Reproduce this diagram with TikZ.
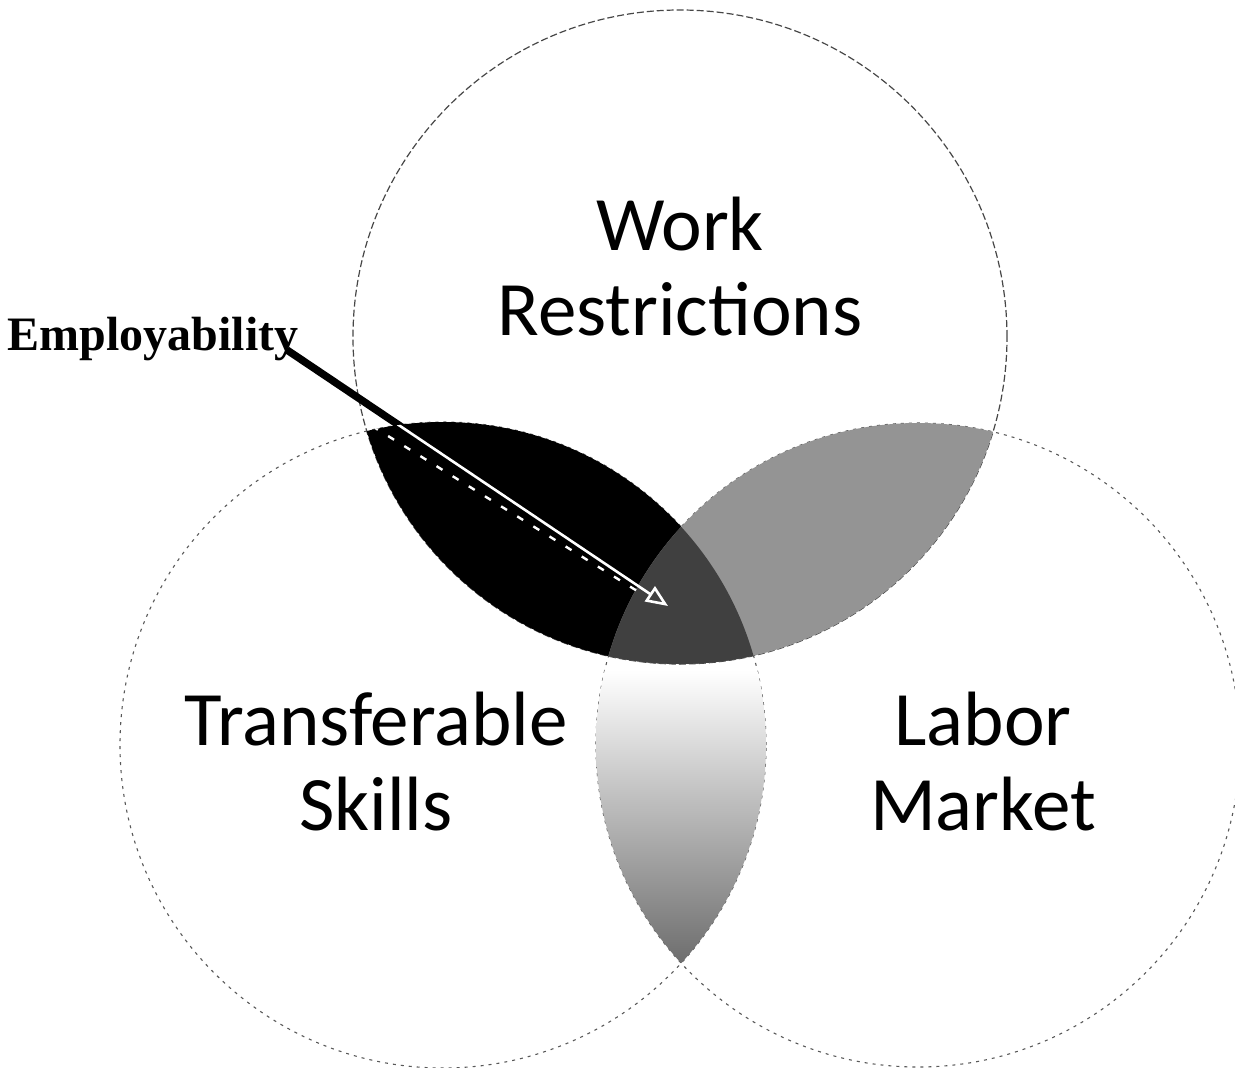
\documentclass[tikz,border=0pt]{standalone}
\usepackage{fontspec}
\setmainfont{Carlito}
\newfontfamily\empfont{Liberation Serif}
\usetikzlibrary{arrows.meta}

\begin{document}
\begin{tikzpicture}[x=1pt,y=-1pt,
  outline/.style={draw=black!72, line width=1.2pt, dash pattern=on 7pt off 3pt},
  outlinelight/.style={draw=black!65, line width=1.1pt, dash pattern=on 3pt off 5pt},
  venntext/.style={anchor=base, inner sep=0pt, font=\fontsize{77}{90}\selectfont},
  emptext/.style={anchor=base, inner sep=0pt, font=\empfont\bfseries\fontsize{48}{54}\selectfont}]

  \useasboundingbox (0,0) rectangle (1235,1068);

  % circle centres
  \coordinate (T) at (680,337);
  \coordinate (L) at (443,745);
  \coordinate (R) at (918,745);
  \def\rT{327pt}
  \def\rL{323pt}
  \def\rR{322pt}

  % circle outlines
  \draw[outline] (T) circle[radius=\rT];
  \draw[outlinelight] (L) circle[radius=\rL];
  \draw[outlinelight] (R) circle[radius=\rR];

  % label and pointer ends
  \node[emptext] (emp) at (153,350) {Employability};
  \coordinate (astart) at (287,350);
  \coordinate (tip) at (668,606);
  \coordinate (dstart) at (372,426);
  \coordinate (dend) at (642,594);

  % thick black part of the pointer (covered inside the lens)
  \draw[line width=7.5pt] (astart) -- (tip);

  % lower lens: Transferable Skills and Labor Market
  \begin{scope}
    \clip (L) circle[radius=\rL];
    \clip (R) circle[radius=\rR];
    \shade[top color=white, middle color=black!22, bottom color=black!58]
      (585,670) rectangle (780,968);
  \end{scope}

  % upper left lens: Work Restrictions and Transferable Skills
  \begin{scope}
    \clip (T) circle[radius=\rT];
    \fill[black] (L) circle[radius=\rL];
  \end{scope}

  % upper right lens: Work Restrictions and Labor Market
  \begin{scope}
    \clip (T) circle[radius=\rT];
    \fill[black!42] (R) circle[radius=\rR];
  \end{scope}

  % centre: all three
  \begin{scope}
    \clip (T) circle[radius=\rT];
    \clip (L) circle[radius=\rL];
    \fill[black!75] (R) circle[radius=\rR];
  \end{scope}

  % white part of the pointer inside the dark lens
  \begin{scope}
    \clip (T) circle[radius=\rT];
    \clip (L) circle[radius=\rL];
    \draw[white, line width=2.6pt, -{Triangle[open, length=22pt, width=18pt, line width=2.6pt]}]
      (astart) -- (tip);
    \draw[white, line width=2.4pt, dash pattern=on 7pt off 12pt] (dstart) -- (dend);
  \end{scope}

  % circle labels
  \node[venntext] (work) at (680,250) {Work};
  \node[venntext] (restr) at (680,335) {Restrictions};
  \node[venntext] (transf) at (376,745) {Transferable};
  \node[venntext] (skills) at (376,830) {Skills};
  \node[venntext] (labor) at (983,745) {Labor};
  \node[venntext] (market) at (983,830) {Market};
\end{tikzpicture}
\end{document}
